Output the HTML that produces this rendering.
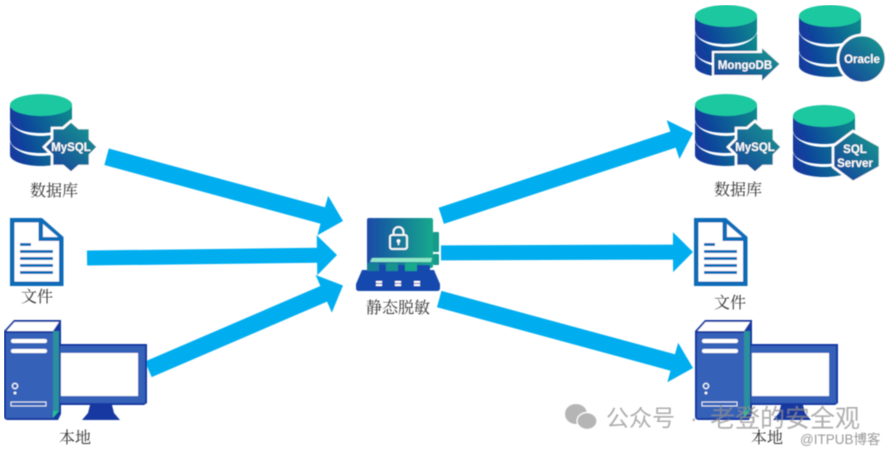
<!DOCTYPE html>
<html><head><meta charset="utf-8"><style>
html,body{margin:0;padding:0;background:#fff}
svg{display:block}
.l{font-family:"Noto Serif CJK SC","Liberation Serif",serif;font-size:16px;fill:#333;text-anchor:middle}
.b{font-family:"Liberation Sans","Noto Sans CJK SC",sans-serif;font-weight:700;fill:#fff;text-anchor:middle;font-size:11.5px}
.w{font-family:"Liberation Sans","Noto Sans CJK SC",sans-serif;fill:#8f8f8f;opacity:.72}
</style></head><body>
<svg width="890" height="454" viewBox="0 0 890 454" xmlns="http://www.w3.org/2000/svg">
<defs>
<filter id="soft" x="0" y="0" width="100%" height="100%"><feGaussianBlur stdDeviation="0.4"/></filter>
<linearGradient id="g" x1="0" x2="1" y1="0.2" y2="0"><stop offset="0" stop-color="#123a9e"/><stop offset="1" stop-color="#0f8f8c"/></linearGradient>
<linearGradient id="gb" x1="0" x2="1" y1="1" y2="0"><stop offset="0" stop-color="#123a9e"/><stop offset="1" stop-color="#14a08e"/></linearGradient>
<linearGradient id="sv" x1="0" x2="1" y1="0" y2="0"><stop offset="0" stop-color="#1c4aa8"/><stop offset=".55" stop-color="#127f98"/><stop offset="1" stop-color="#16a98c"/></linearGradient>
<g id="db">
<path d="M0 11V25C0 34 14 39 31 39S62 34 62 25V11Z" fill="url(#g)"/>
<path d="M0 28V45C0 54 14 59 31 59S62 54 62 45V28C58 37 45 42 31 42S4 37 0 28Z" fill="url(#g)"/>
<path d="M0 48V61C0 67 14 72 31 72S62 67 62 61V48C58 57 45 62 31 62S4 57 0 48Z" fill="url(#g)"/>
<ellipse cx="31" cy="11" rx="31" ry="11" fill="#1ec8a0"/>
</g>
<polygon id="star" points="0,-26 8,-19 19,-19 19,-8 27,0 19,8 19,19 8,19 0,26 -8,19 -19,19 -19,8 -27,0 -19,-8 -19,-19 -8,-19" fill="url(#gb)" stroke="#fff" stroke-width="2.5"/>
<g id="pc">
<path d="M14 320H61V414L58 420H8Q4 420 4 416V331Z" fill="#1238a0"/>
<path d="M6.500 331L14.500 322H59L53 331Z" fill="#fff"/>
<rect x="6" y="333" width="47" height="85" fill="#3562b8"/>
<rect x="53" y="331" width="6" height="80" fill="#2a8f9e"/>
<path d="M53 411H59L53 418Z" fill="#22c08e"/>
<rect x="11" y="339" width="36" height="4" rx="2" fill="#fff"/>
<rect x="11" y="349" width="36" height="4" rx="2" fill="#fff"/>
<circle cx="15" cy="386" r="2.600" fill="none" stroke="#fff" stroke-width="1.200"/>
<circle cx="15" cy="393" r="1.400" fill="#fff"/>
<rect x="11" y="402" width="35" height="4" fill="#3562b8" stroke="#dde6f5" stroke-width="1"/>
<path d="M59 344H147V403L144 405H59Z" fill="#1238a0"/>
<rect x="60" y="346" width="85" height="57" fill="#3562b8"/>
<rect x="61" y="353" width="77" height="43" fill="#fff"/>
<path d="M90 405H112L114 413L120 420H82L88 413Z" fill="#1238a0"/>
</g>
<g id="doc">
<path d="M10 218H42L63.500 237V286H10Z" fill="#0b6cb8"/>
<path d="M14.500 222.500H38.500V241H59V281.500H14.500Z" fill="#fff"/>
<path d="M43 224L58 237H43Z" fill="#fff"/>
<rect x="20" y="243" width="11" height="3" fill="#0b6cb8"/>
<rect x="20" y="250" width="33" height="3" fill="#0b6cb8"/>
<rect x="20" y="257" width="33" height="3" fill="#0b6cb8"/>
<rect x="20" y="264" width="33" height="3" fill="#0b6cb8"/>
<rect x="20" y="271" width="33" height="3" fill="#0b6cb8"/>
</g>
</defs>
<g filter="url(#soft)">
<!-- arrows -->
<g fill="#06aef0">
<polygon transform="translate(343,221) rotate(15.2)" points="-245,-8.500 -21,-8.500 -21,-20.500 0,0 -21,20.500 -21,8.500 -245,8.500"/>
<polygon transform="translate(337,255) rotate(-0.7)" points="-250,-7.500 -20,-7.500 -20,-20 0,0 -20,20 -20,7.500 -250,7.500"/>
<polygon transform="translate(343,285.500) rotate(-23.300)" points="-212,-8.500 -21,-8.500 -21,-20.500 0,0 -21,20.500 -21,8.500 -212,8.500"/>
<polygon transform="translate(693,133) rotate(-18.200)" points="-265,-8.500 -21,-8.500 -21,-20.500 0,0 -21,20.500 -21,8.500 -265,8.500"/>
<polygon transform="translate(693,252) rotate(-0.2)" points="-252,-7.500 -20,-7.500 -20,-20 0,0 -20,20 -20,7.500 -252,7.500"/>
<polygon transform="translate(693,368) rotate(15.200)" points="-263,-8.500 -21,-8.500 -21,-20.500 0,0 -21,20.500 -21,8.500 -263,8.500"/>
</g>

<!-- left -->
<use href="#db" x="10" y="94"/>
<use href="#star" x="71" y="147"/>
<text class="b" x="71" y="151">MySQL</text>
<text class="l" x="54" y="196">数据库</text>
<use href="#doc"/>
<text class="l" x="37" y="302">文件</text>
<use href="#pc"/>
<text class="l" x="75" y="443">本地</text>

<!-- server -->
<rect x="433" y="232" width="6" height="20" rx="1" fill="#149a8c"/>
<rect x="433" y="254" width="6" height="11" rx="1" fill="#149a8c"/>
<rect x="367" y="218" width="66" height="50" rx="2" fill="url(#sv)"/>
<path d="M370 262L372 258H432L431 262Z" fill="#8fe8c8"/>
<path d="M362 270H374V265H430V270H434L440 284V288Q440 291 437 291H359Q356 291 356 288V284Z" fill="#1848ae"/>
<rect x="367" y="263" width="12" height="8" fill="#127f98"/><rect x="386" y="263" width="12" height="8" fill="#15938f"/><rect x="405" y="263" width="12" height="8" fill="#16a98c"/>
<g fill="#fff"><rect x="376" y="281" width="6" height="2"/><rect x="376" y="284" width="6" height="2"/><rect x="395" y="281" width="6" height="2"/><rect x="395" y="284" width="6" height="2"/><rect x="414" y="281" width="6" height="2"/><rect x="414" y="284" width="6" height="2"/></g>
<rect x="390" y="235" width="17" height="14" rx="2" fill="none" stroke="#fff" stroke-width="1.800"/>
<path d="M393.500 235V232a5 5 0 0 1 10 0V235" fill="none" stroke="#fff" stroke-width="1.800"/>
<circle cx="398.500" cy="241" r="1.800" fill="#fff"/><rect x="397.800" y="241" width="1.400" height="4" fill="#fff"/>
<text class="l" x="398" y="313">静态脱敏</text>

<!-- right db -->
<use href="#db" x="695" y="5"/>
<path d="M713 52H761V46L781 64 761 83V76H713Z" fill="url(#gb)" stroke="#fff" stroke-width="2"/>
<text class="b" x="745" y="69">MongoDB</text>
<use href="#db" x="799" y="5"/>
<circle cx="862" cy="59" r="24" fill="url(#gb)" stroke="#fff" stroke-width="2.500"/>
<text class="b" x="862" y="63">Oracle</text>
<use href="#db" x="695" y="94"/>
<use href="#star" x="755" y="147"/>
<text class="b" x="755" y="151">MySQL</text>
<text class="l" x="738" y="195">数据库</text>
<use href="#db" x="793" y="105"/>
<polygon points="853,131 880,146 880,167 853,182 833,167 833,146" fill="url(#gb)" stroke="#fff" stroke-width="2.500"/>
<text class="b" x="855" y="153">SQL</text>
<text class="b" x="855" y="167">Server</text>
<use href="#doc" x="684" y="0"/>
<text class="l" x="730" y="308">文件</text>
<use href="#pc" x="691" y="0"/>
<text class="l" x="767" y="443">本地</text>

<!-- watermark -->
<g fill="#a8a8a8" opacity=".85">
<ellipse cx="576" cy="414" rx="11" ry="10"/><ellipse cx="587" cy="421" rx="10" ry="8.500" stroke="#fff" stroke-width="1.200"/>
</g>
<text class="w" x="606" y="426" font-size="23">公众号</text>
<text class="w" x="690" y="426" font-size="23">·</text>
<text class="w" x="710" y="427" font-size="25">老登的安全观</text>
<text class="w" x="800" y="444" font-size="13.500" style="opacity:.9">@ITPUB博客</text>
</g>
</svg>
</body></html>
